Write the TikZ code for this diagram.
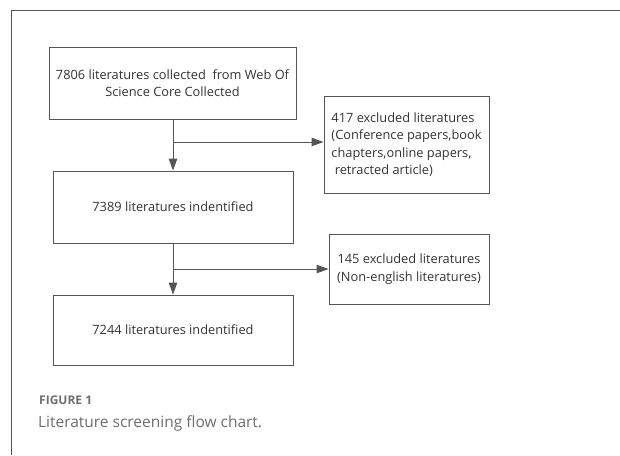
\documentclass[tikz,border=0pt]{standalone}
\usepackage{fontspec}
\setmainfont{Open Sans}
\newfontfamily\capfont{Open Sans}
\usetikzlibrary{arrows.meta}
\definecolor{linec}{HTML}{555555}
\definecolor{txtc}{HTML}{333333}
\definecolor{capc}{HTML}{6E6E6E}
\begin{document}
\begin{tikzpicture}[x=1pt,y=-1pt,
  boxst/.style={draw=linec,line width=0.9pt,text=txtc,font=\fontsize{12.8}{17.5}\selectfont,align=center,inner sep=0pt},
  arr/.style={draw=linec,line width=0.9pt,-{Triangle[length=12pt,width=8.5pt]}}]
\useasboundingbox (0,0) rectangle (620,455);
\draw[linec,line width=0.8pt] (11,455) -- (11,10) -- (620,10);
\node[boxst,minimum width=247pt,minimum height=72pt] (b1) at (172.5,83) {7806 literatures collected\ \ from Web Of\\Science Core Collected};
\node[boxst,minimum width=165pt,minimum height=97pt,align=left] (b2) at (406.5,144.5) {417 excluded literatures\\(Conference papers,book\\chapters,online papers,\\\ retracted article)};
\node[boxst,minimum width=240pt,minimum height=72pt] (b3) at (173,207) {7389 literatures indentified};
\node[boxst,minimum width=160pt,minimum height=70pt] (b4) at (409,269) {145 excluded literatures\\(Non-english literatures)};
\node[boxst,minimum width=240pt,minimum height=70pt] (b5) at (173,330) {7244 literatures indentified};
\coordinate (j1) at (173,142);
\coordinate (j2) at (173,269);
\draw[arr] (b1.south -| j1) -- (b3.north -| j1);
\draw[arr] (j1) -- (j1 -| b2.west);
\draw[arr] (b3.south -| j2) -- (b5.north -| j2);
\draw[arr] (j2) -- (j2 -| b4.west);
\node[anchor=west,text=capc,font=\capfont\fontsize{12}{14}\selectfont\bfseries,inner sep=0pt] (f1) at (39,400) {FIGURE 1};
\node[anchor=west,text=capc,font=\capfont\fontsize{15.5}{18}\selectfont,inner sep=0pt] (f2) at (38,423) {Literature screening flow chart.};
\end{tikzpicture}
\end{document}
